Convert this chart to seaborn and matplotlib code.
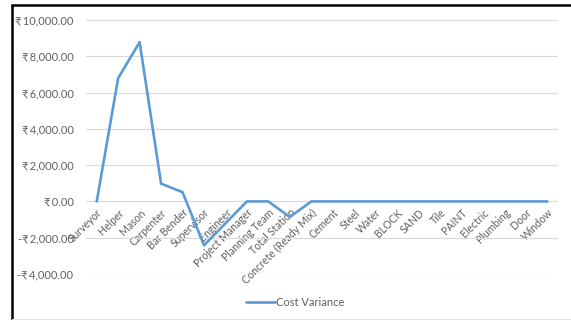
import matplotlib
matplotlib.use("Agg")
import matplotlib.pyplot as plt
import matplotlib.ticker as mticker
from matplotlib.lines import Line2D
import seaborn as sns
import pandas as pd

categories = [
    "Surveyor", "Helper", "Mason", "Carpenter", "Bar Bender", "Supervisor",
    "Engineer", "Project Manager", "Planning Team", "Total Station",
    "Concrete (Ready Mix)", "Cement", "Steel", "Water", "BLOCK", "SAND",
    "Tile", "PAINT", "Electric", "Plumbing", "Door", "Window",
]
cost_variance = [
    0, 6800, 8780, 980, 510, -2420,
    -1210, 0, 0, -860,
    0, 0, 0, 0, 0, 0,
    0, 0, 0, 0, 0, 0,
]
series_name = "Cost Variance"
y_ticks = [-4000, -2000, 0, 2000, 4000, 6000, 8000, 10000]

sns.set_theme(style="white")
plt.rcParams["font.family"] = ["Lato", "DejaVu Sans"]

text_color = "#606060"
line_color = "#5b9bd5"
grid_color = "#d9d9d9"

df = pd.DataFrame({"Item": categories, "Variance": cost_variance})

fig = plt.figure(figsize=(5.71, 3.2), dpi=100)
ax = fig.add_axes([86 / 571, 1 - 274 / 320, (558 - 86) / 571, (274 - 20) / 320])

sns.lineplot(data=df, x="Item", y="Variance", sort=False, ax=ax,
             color=line_color, linewidth=1.9, label=series_name, legend=False)

ax.set_xlim(-0.5, len(categories) - 0.5)
ax.set_ylim(y_ticks[0], y_ticks[-1])
ax.set_yticks(y_ticks)


def rupee(v, _pos):
    sign = "-" if v < 0 else ""
    return f"{sign}\u20b9\u2009{abs(v):,.2f}"


ax.yaxis.set_major_formatter(mticker.FuncFormatter(rupee))
ax.grid(axis="y", color=grid_color, linewidth=0.8)
ax.set_axisbelow(True)

for side in ["left", "right", "top"]:
    ax.spines[side].set_visible(False)
ax.spines["bottom"].set_position(("data", 0))
ax.spines["bottom"].set_visible(False)

ax.tick_params(axis="y", length=0, pad=9, labelsize=8, labelcolor=text_color)
ax.tick_params(axis="x", length=0, pad=4, labelsize=7.6, labelcolor=text_color)
for lbl in ax.get_xticklabels():
    lbl.set_rotation(45)
    lbl.set_ha("right")
    lbl.set_va("top")
    lbl.set_rotation_mode("anchor")

ax.set_xlabel("")
ax.set_ylabel("")

handle = Line2D([], [], color=line_color, linewidth=1.9)
fig.legend([handle], [series_name], loc="center", bbox_to_anchor=(0.517, 0.056),
           frameon=False, fontsize=8, labelcolor=text_color,
           handlelength=2.6, handletextpad=0.1)

# chart frame edges
fig.add_artist(Line2D([12 / 571, 12 / 571], [0, 1 - 5 / 320], color="black",
                      linewidth=1.8, transform=fig.transFigure))
fig.add_artist(Line2D([12 / 571, 1], [1 - 5 / 320, 1 - 5 / 320], color="black",
                      linewidth=1.8, transform=fig.transFigure))
fig.add_artist(Line2D([12 / 571, 1], [1.2 / 320, 1.2 / 320], color="#e6e6e6",
                      linewidth=0.8, transform=fig.transFigure))

fig.savefig("out.png", dpi=100)
